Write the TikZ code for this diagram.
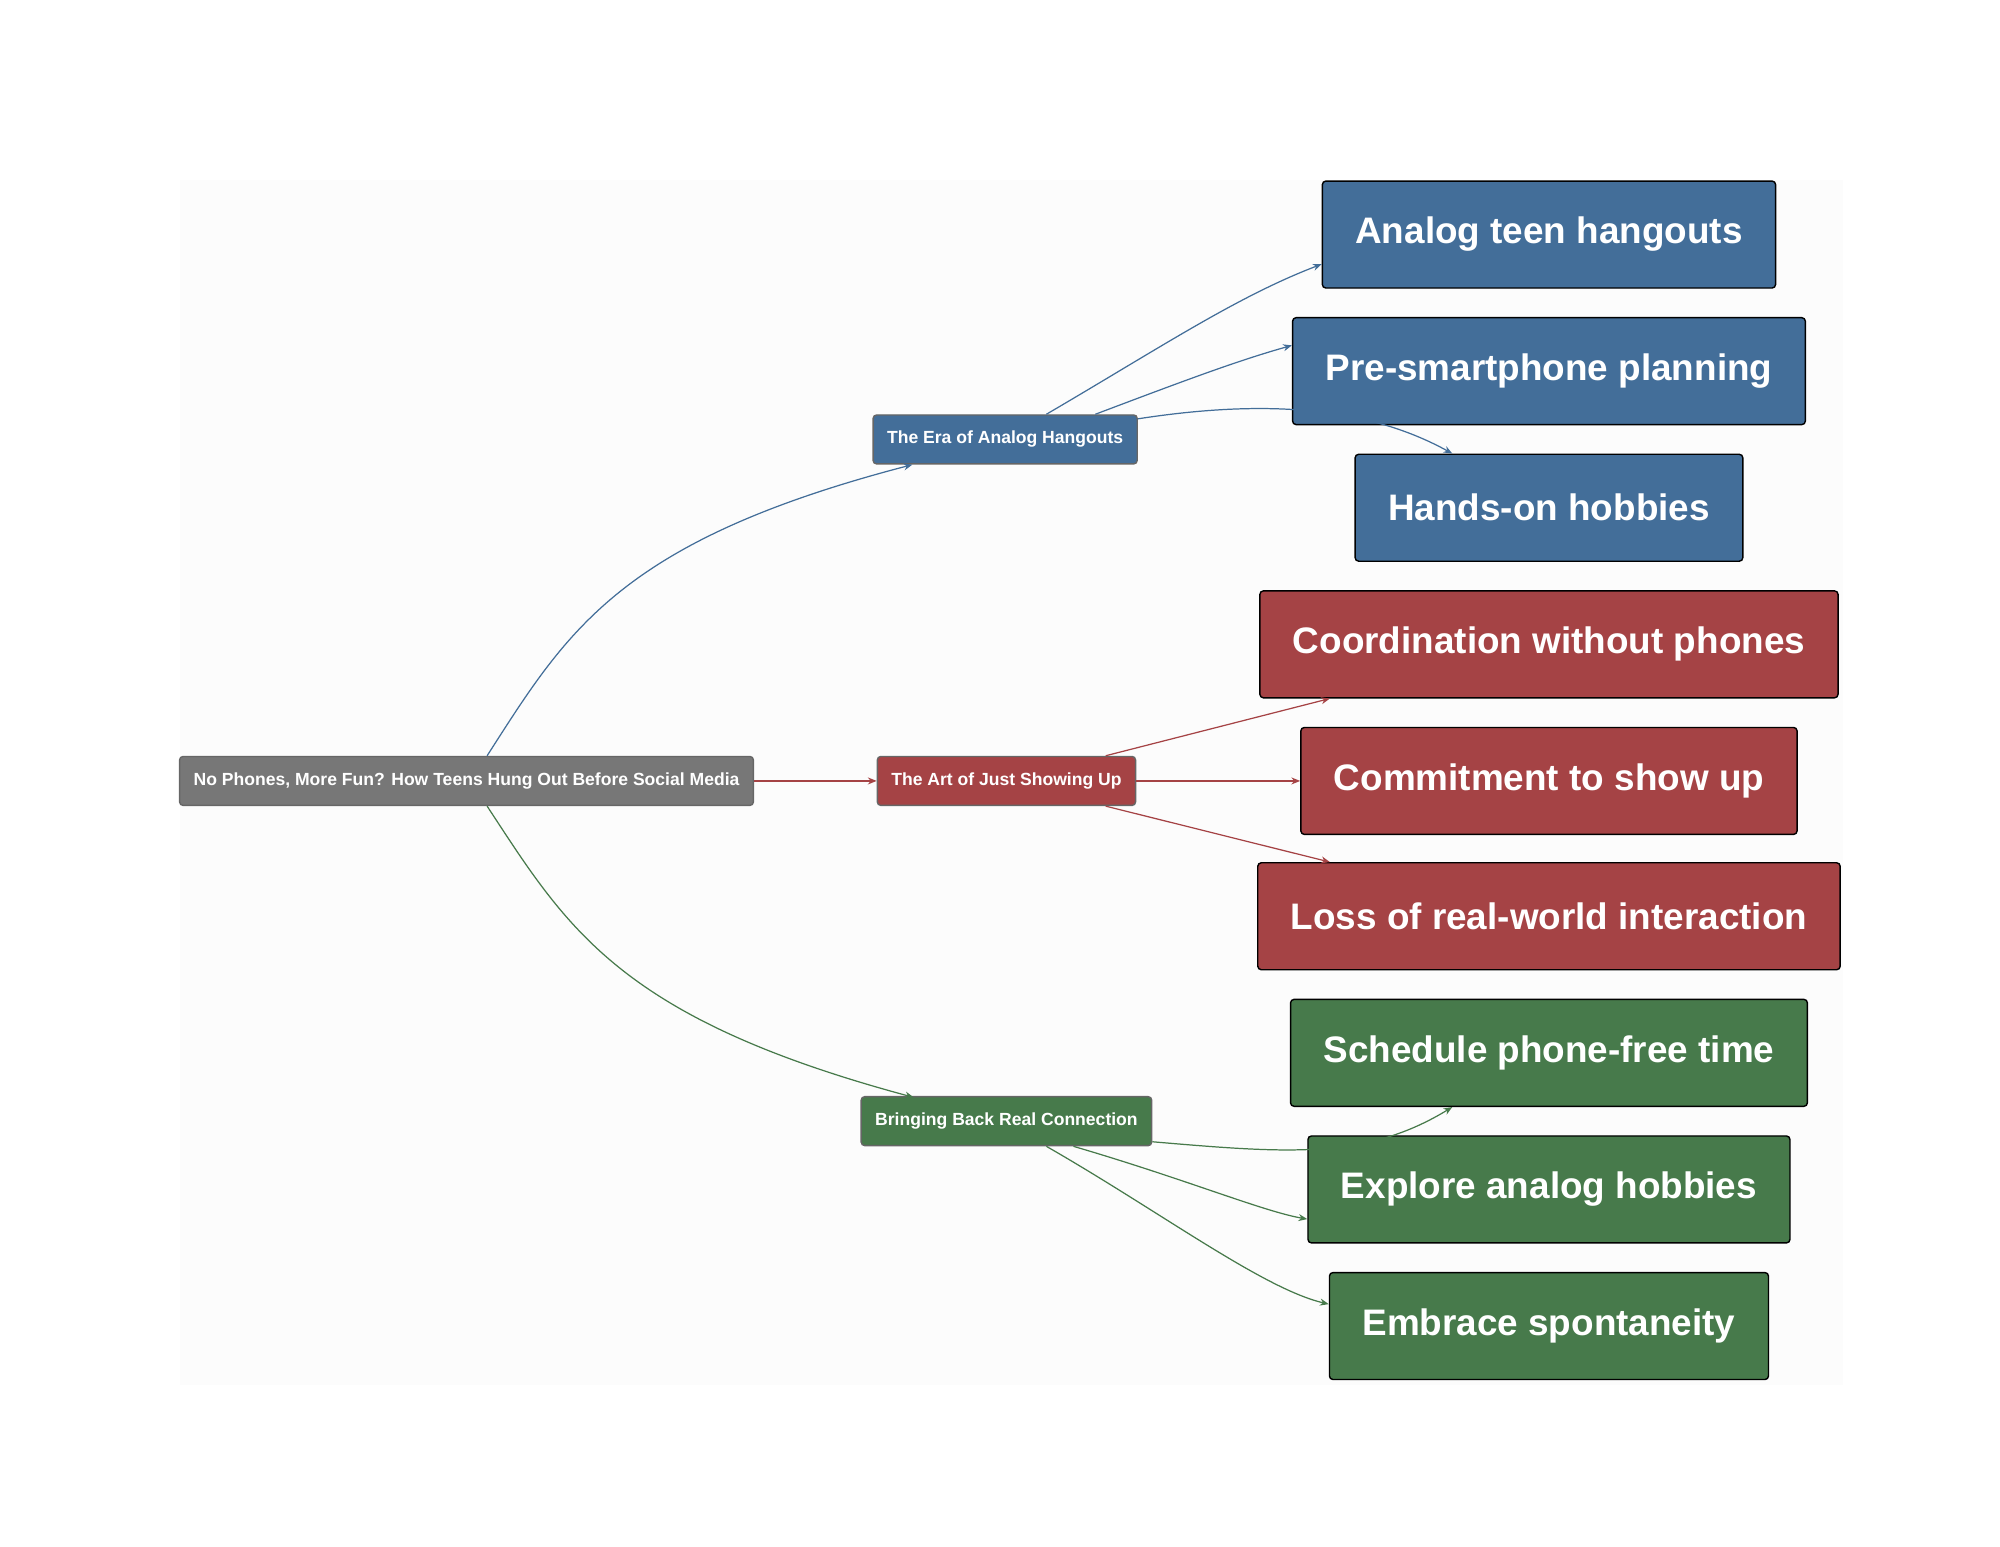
\documentclass[tikz,border=0pt]{standalone}
\usepackage{fontspec}
\setmainfont{Liberation Sans}
\usetikzlibrary{positioning,arrows.meta,calc}
\definecolor{rootgray}{HTML}{777777}
\definecolor{erablue}{HTML}{436E99}
\definecolor{artred}{HTML}{A54345}
\definecolor{bringgreen}{HTML}{477A4B}
\tikzset{
  topic/.style={draw=black!60, rounded corners=1pt, text=white, font=\bfseries\fontsize{5}{6}\selectfont, minimum height=0.49cm, inner xsep=0.14cm},
  leaf/.style={draw=black, rounded corners=1pt, text=white, font=\bfseries\fontsize{10.5}{12}\selectfont, minimum height=1.07cm, inner xsep=0.33cm},
  link/.style={-{Stealth[length=2.5pt,width=2pt]}, line width=0.35pt}
}
\begin{document}
\begin{tikzpicture}[x=0.01289cm, y=-0.01289cm]
	\useasboundingbox (0,0) rectangle (1552,1200);
	\fill[black!1] (140,140) rectangle (1430,1075);

	\node (root) at (362,606) [topic, fill=rootgray, minimum width=5.71cm] {No Phones, More Fun? How Teens Hung Out Before Social Media};
	\node (era) at (780,341) [topic, fill=erablue] {The Era of Analog Hangouts};
	\node (art) at (781,606) [topic, fill=artred] {The Art of Just Showing Up};
	\node (bring) at (781,870) [topic, fill=bringgreen] {Bringing Back Real Connection};

	\node (analog) at (1202,182) [leaf, fill=erablue] {Analog teen hangouts};
	\node (plan) at (1202,288) [leaf, fill=erablue] {Pre-smartphone planning};
	\node (hobby) at (1202,394) [leaf, fill=erablue] {Hands-on hobbies};
	\node (coord) at (1202,500) [leaf, fill=artred] {Coordination without phones};
	\node (commit) at (1202,606) [leaf, fill=artred] {Commitment to show up};
	\node (loss) at (1202,711) [leaf, fill=artred] {Loss of real-world interaction};
	\node (sched) at (1202,817) [leaf, fill=bringgreen] {Schedule phone-free time};
	\node (explore) at (1202,923) [leaf, fill=bringgreen] {Explore analog hobbies};
	\node (embrace) at (1202,1029) [leaf, fill=bringgreen] {Embrace spontaneity};

	\draw [link, erablue] ($(root.north)+(16,0)$) .. controls (440,490) and (480,420) .. ($(era.south)+(-72,0)$);
	\draw [link, artred] (root.east) -- (art.west);
	\draw [link, bringgreen] ($(root.south)+(16,0)$) .. controls (440,720) and (480,790) .. ($(bring.south)+(-72,-38)$);

	\draw [link, erablue] ($(era.north)+(32,0)$) .. controls (900,270) and (960,230) .. ($(analog.west)+(0,23)$);
	\draw [link, erablue] ($(era.north)+(70,0)$) .. controls (920,295) and (960,280) .. ($(plan.west)+(0,-20)$);
	\draw [link, erablue] ($(era.east)+(0,-16)$) .. controls (980,310) and (1060,315) .. ($(hobby.north)+(-75,0)$);

	\draw [link, artred] ($(art.north)+(77,0)$) -- ($(coord.south)+(-170,0)$);
	\draw [link, artred] (art.east) -- (commit.west);
	\draw [link, artred] ($(art.south)+(77,0)$) -- ($(loss.north)+(-170,0)$);

	\draw [link, bringgreen] ($(bring.east)+(0,16)$) .. controls (1000,895) and (1060,900) .. ($(sched.south)+(-75,0)$);
	\draw [link, bringgreen] ($(bring.south)+(52,0)$) .. controls (920,915) and (980,940) .. ($(explore.west)+(0,23)$);
	\draw [link, bringgreen] ($(bring.south)+(31,0)$) .. controls (900,940) and (980,1000) .. ($(embrace.west)+(0,-17)$);
\end{tikzpicture}
\end{document}
